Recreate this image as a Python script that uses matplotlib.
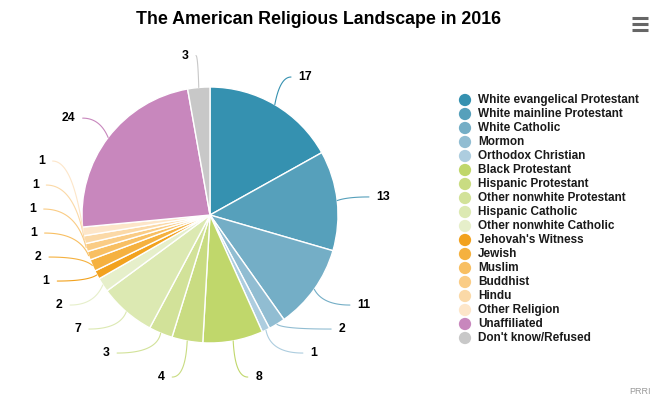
import numpy as np
import matplotlib.pyplot as plt

# ==========================
# DATA
# ==========================

categories = [
    "White evangelical Protestant", "White mainline Protestant", "White Catholic",
    "Mormon", "Orthodox Christian", "Black Protestant", "Hispanic Protestant",
    "Other nonwhite Protestant", "Hispanic Catholic", "Other nonwhite Catholic",
    "Jehovah's Witness", "Jewish", "Muslim", "Buddhist", "Hindu",
    "Other Religion", "Unaffiliated", "Don't know/Refused",
]
shares = [16.9, 12.6, 10.7, 2.1, 1.0, 7.6, 3.9, 3.0, 7.1, 1.8,
          1.1, 1.5, 1.1, 1.0, 1.0, 1.1, 23.7, 2.8]
colors = [
    '#3591b0', '#56a0bb', '#74aec6', '#91bdd2', '#adcddf',
    '#c0d76b', '#c9dc82', '#d2e299', '#dce9b2', '#e6efca',
    '#f2a21e', '#f5b13f', '#f8bf62', '#facc85', '#fbd9a7', '#fde6c9',
    '#c887bd', '#c8c8c8',
]
title = "The American Religious Landscape in 2016"
credit = "PRRI"

plt.rcParams['font.family'] = ['Liberation Sans', 'DejaVu Sans']

# ==========================
# LAYOUT (pixels)
# ==========================

W, H = 662, 404
cx, cy, scale = 210, 215, 128     # pie centre and radius in px

fig = plt.figure(figsize=(W / 100, H / 100), dpi=100)
ax = fig.add_axes([0, 0, 420 / W, 1])

wedges, _ = ax.pie(shares, colors=colors, startangle=90, counterclock=False,
                   radius=1, wedgeprops=dict(edgecolor='white', linewidth=1))
ax.set_xlim(-cx / scale, (420 - cx) / scale)
ax.set_ylim(-(H - cy) / scale, cy / scale)
ax.set_aspect('auto')
ax.axis('off')

# ==========================
# DATA LABELS (Highcharts style distribution)
# ==========================

def distribute(targets, lo, hi, gap):
    order = list(np.argsort(-np.asarray(targets)))
    clusters = [[i] for i in order]

    def place(c):
        n = len(c)
        top = np.mean([targets[i] for i in c]) + (n - 1) * gap / 2
        top = min(top, hi)
        top = max(top, lo + (n - 1) * gap)
        return top

    changed = True
    while changed:
        changed = False
        tops = [place(c) for c in clusters]
        for k in range(len(clusters) - 1):
            bottom_k = tops[k] - (len(clusters[k]) - 1) * gap
            if bottom_k - tops[k + 1] < gap - 1e-9:
                clusters[k] = clusters[k] + clusters[k + 1]
                del clusters[k + 1]
                changed = True
                break
    pos = {}
    for c in clusters:
        top = place(c)
        for j, i in enumerate(c):
            pos[i] = top - j * gap
    return pos

fracs = np.array(shares) / sum(shares)
starts = 90 - 360 * np.concatenate([[0], np.cumsum(fracs)[:-1]])
mids = np.radians(starts - 180 * fracs)

R_lab = 1.25
R_x = 1.30
gap = 24 / scale
lo, hi = -1.266, 1.6

ys_nat = R_lab * np.sin(mids)
xs_nat = R_lab * np.cos(mids)
right = np.cos(mids) >= 0

label_y = {}
for side in (True, False):
    idx = [i for i in range(len(shares)) if right[i] == side]
    pos = distribute([ys_nat[i] for i in idx], lo, hi, gap)
    for k, i in enumerate(idx):
        label_y[i] = pos[k]

for i, val in enumerate(shares):
    y = label_y[i]
    sign = 1 if right[i] else -1
    if abs(y - ys_nat[i]) < 1e-6:
        xc = xs_nat[i]
    else:
        xc = sign * np.sqrt(max(R_x ** 2 - y ** 2, 0))
    ex, ey = np.cos(mids[i]), np.sin(mids[i])
    # quadratic curve from slice edge to the label
    ctrl = (ex * 1.08, y)
    t = np.linspace(0, 1, 30)
    bx = (1 - t) ** 2 * ex + 2 * (1 - t) * t * ctrl[0] + t ** 2 * xc
    by = (1 - t) ** 2 * ey + 2 * (1 - t) * t * ctrl[1] + t ** 2 * y
    ax.plot(bx, by, color=colors[i], lw=0.8, solid_capstyle='round', clip_on=False)
    ax.text(xc + sign * 0.06, y, f"{val:.0f}", ha='left' if right[i] else 'right',
            va='center', fontsize=8.8, fontweight='bold', color='#000000')

# ==========================
# TITLE, LEGEND, DECORATIONS
# ==========================

ov = fig.add_axes([0, 0, 1, 1])
ov.set_xlim(0, W)
ov.set_ylim(H, 0)
ov.axis('off')
ov.patch.set_alpha(0)

ov.text(318, 20, title, ha='center', va='center', fontsize=12.8,
        fontweight='bold', color='#000000')

for i, name in enumerate(categories):
    yy = 100 + 14 * i
    ov.scatter([465], [yy], s=78, color=colors[i], edgecolors='none')
    ov.text(478, yy, name, ha='left', va='center', fontsize=8.5,
            fontweight='bold', color='#1a1a1a')

# menu icon
for yy in (17.5, 23.5, 29.5):
    ov.plot([632, 648], [yy, yy], color='#666666', lw=2.2, solid_capstyle='butt')

ov.text(651, 392, credit, ha='right', va='center', fontsize=6.5, color='#999999')

fig.savefig('out.png', dpi=100)
